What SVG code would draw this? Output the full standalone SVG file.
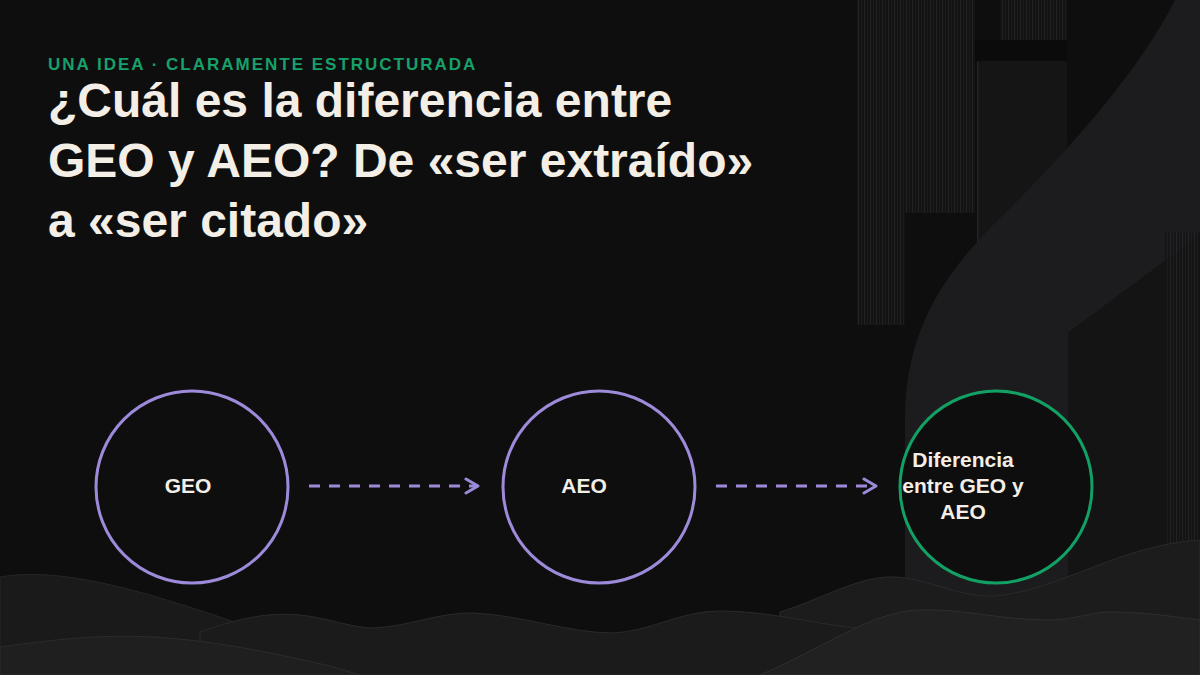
<svg xmlns="http://www.w3.org/2000/svg" width="1200" height="675" viewBox="0 0 1200 675">
  <defs>
    <pattern id="stripes" width="6" height="10" patternUnits="userSpaceOnUse">
      <rect width="6" height="10" fill="#141415"/>
      <rect x="0" width="1" height="10" fill="#2a2a2c"/>
      <rect x="3" width="1" height="10" fill="#1f1f21"/>
    </pattern>
    <marker id="arrow" markerUnits="userSpaceOnUse" markerWidth="16" markerHeight="18" viewBox="0 0 16 18" refX="14" refY="9" orient="auto">
      <path d="M2,2 L14,9 L2,16" fill="none" stroke="#9d8ad9" stroke-width="3" stroke-linecap="round" stroke-linejoin="round"/>
    </marker>
    <style>
      .kicker { font-family: "Liberation Sans", Arial, sans-serif; font-weight: bold; font-size: 17px; letter-spacing: 2px; fill: #17a06a; }
      .title { font-family: "Liberation Sans", Arial, sans-serif; font-weight: bold; font-size: 48px; fill: #f3efe6; }
      .ring { fill: #0e0e0f; stroke-width: 3; }
      .ring.purple { stroke: #9d8ad9; }
      .ring.green { stroke: #12a064; }
      .label { font-family: "Liberation Sans", Arial, sans-serif; font-weight: bold; font-size: 21px; fill: #f3efe6; text-anchor: middle; }
      .conn { fill: none; stroke: #9d8ad9; stroke-width: 3; stroke-dasharray: 11 9; marker-end: url(#arrow); }
    </style>
  </defs>

  <!-- background -->
  <rect width="1200" height="675" fill="#0e0e0f"/>

  <!-- right decorative panels -->
  <g id="decor">
    <rect x="857" y="0" width="48" height="325" fill="url(#stripes)" opacity="0.8"/>
    <rect x="905" y="0" width="70" height="213" fill="url(#stripes)" opacity="0.8"/>
    <rect x="1000" y="0" width="67" height="40" fill="url(#stripes)" opacity="0.8"/>
    <rect x="975" y="40" width="92" height="21" fill="#0b0b0c"/>
    <rect x="977" y="61" width="90" height="500" fill="#151516"/>
    <rect x="977" y="62" width="1.5" height="500" fill="#242426"/>
    <path d="M1175,0 L1200,0 L1200,235 L1068,333 L1068,600 L905,600 L905,420 C905,340 935,285 990,228 C1070,150 1140,70 1175,0 Z" fill="#1c1c1e"/>
    <path d="M1068,333 L1200,235 L1200,600 L1068,600 Z" fill="#141415"/>
    <rect x="1165" y="232" width="35" height="330" fill="url(#stripes)" opacity="0.7"/>
  </g>

  <!-- bottom waves -->
  <g id="waves">
    <path d="M780,675 L780,612 C820,600 860,575 895,577 C930,579 960,598 995,596 C1060,590 1120,545 1200,540 L1200,675 Z" fill="#1c1c1d" stroke="#2a2a2b" stroke-width="1"/>
    <path d="M0,577 C40,570 90,578 150,595 C200,610 230,620 262,632 L262,675 L0,675 Z" fill="#1a1a1b" stroke="#262627" stroke-width="1"/>
    <path d="M200,675 L200,632 C240,618 268,612 300,615 C330,618 350,628 375,628 C410,626 440,612 474,613 C520,615 570,633 612,633 C650,632 680,611 719,611 C770,611 820,625 857,628 C900,632 950,645 1000,662 L1000,675 Z" fill="#1b1b1c" stroke="#2a2a2b" stroke-width="1"/>
    <path d="M0,647 C50,640 100,634 153,637 C210,640 270,652 330,666 L360,675 L0,675 Z" fill="#1f1f20" stroke="#2c2c2d" stroke-width="1"/>
    <path d="M760,675 C820,650 870,612 918,610 C960,608 1000,620 1048,620 C1075,620 1090,612 1109,612 C1150,612 1180,618 1200,620 L1200,675 Z" fill="#212122" stroke="#2e2e2f" stroke-width="1"/>
  </g>

  <!-- heading -->
  <g id="heading">
    <text class="kicker" x="48" y="70">UNA IDEA · CLARAMENTE ESTRUCTURADA</text>
    <text class="title" x="48" y="117">¿Cuál es la diferencia entre</text>
    <text class="title" x="48" y="177">GEO y AEO? De «ser extraído»</text>
    <text class="title" x="48" y="237">a «ser citado»</text>
  </g>

  <!-- connectors -->
  <g id="connectors">
    <line class="conn" x1="309" y1="486" x2="478" y2="486"/>
    <line class="conn" x1="716" y1="486" x2="876" y2="486"/>
  </g>

  <!-- nodes -->
  <g id="node-geo">
    <circle class="ring purple" cx="192" cy="487" r="96"/>
    <text class="label" x="188" y="493">GEO</text>
  </g>
  <g id="node-aeo">
    <circle class="ring purple" cx="599" cy="487" r="96"/>
    <text class="label" x="584" y="493">AEO</text>
  </g>
  <g id="node-diff">
    <circle class="ring green" cx="996" cy="487" r="96"/>
    <text class="label" x="963" y="467">Diferencia</text>
    <text class="label" x="963" y="493">entre GEO y</text>
    <text class="label" x="963" y="519">AEO</text>
  </g>
</svg>
